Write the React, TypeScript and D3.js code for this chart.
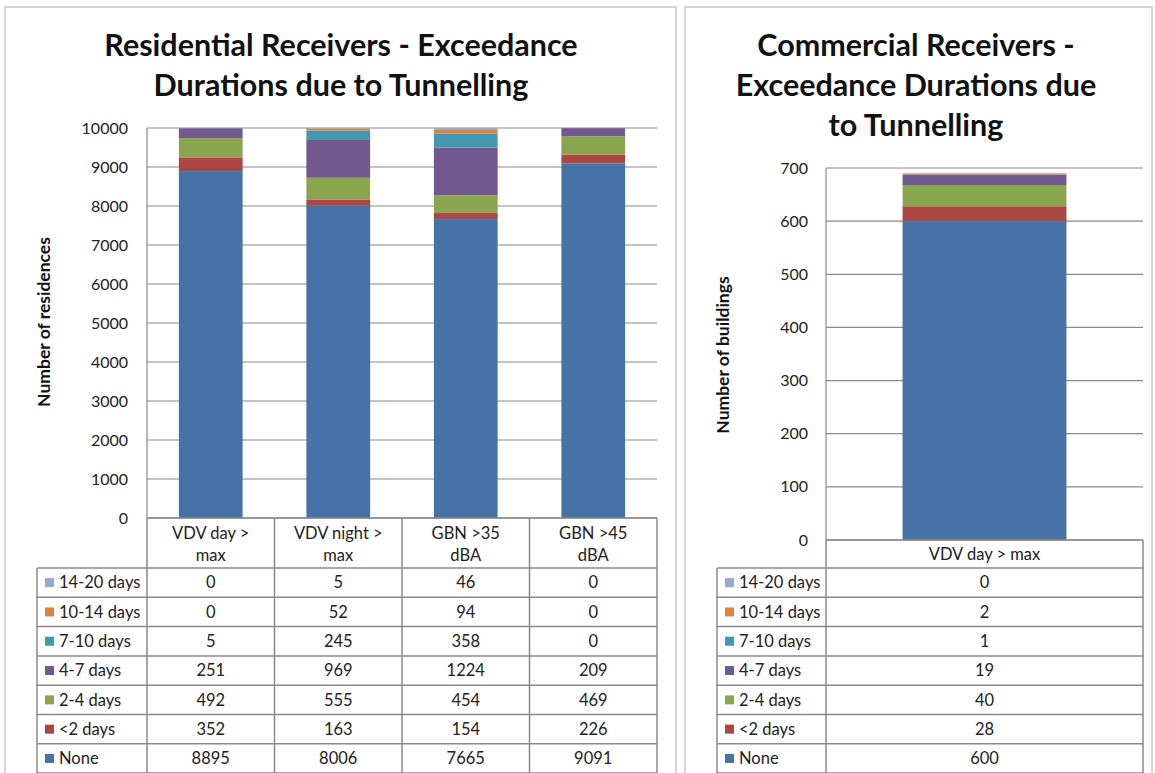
import React from "react";
import * as d3 from "d3";

const seriesNames = ["None", "<2 days", "2-4 days", "4-7 days", "7-10 days", "10-14 days", "14-20 days"];
const seriesColors = ["#4572A7", "#AA4643", "#89A54E", "#71588F", "#4198AF", "#DB843D", "#93A9CF"];

// Residential
const resCategories = ["VDV day > max", "VDV night > max", "GBN >35 dBA", "GBN >45 dBA"];
const resCategoryLines = [["VDV day >", "max"], ["VDV night >", "max"], ["GBN >35", "dBA"], ["GBN >45", "dBA"]];
const resNone = [8895, 8006, 7665, 9091];
const resLt2 = [352, 163, 154, 226];
const res2to4 = [492, 555, 454, 469];
const res4to7 = [251, 969, 1224, 209];
const res7to10 = [5, 245, 358, 0];
const res10to14 = [0, 52, 94, 0];
const res14to20 = [0, 5, 46, 0];
const resTicks = [0, 1000, 2000, 3000, 4000, 5000, 6000, 7000, 8000, 9000, 10000];

// Commercial
const comCategories = ["VDV day > max"];
const comCategoryLines = [["VDV day > max"]];
const comNone = [600];
const comLt2 = [28];
const com2to4 = [40];
const com4to7 = [19];
const com7to10 = [1];
const com10to14 = [2];
const com14to20 = [0];
const comTicks = [0, 100, 200, 300, 400, 500, 600, 700];

const FONT = "Lato, 'Open Sans', sans-serif";

type PanelProps = {
  px: number; pw: number;
  titleLines: string[]; titleCx: number; titleBaselines: number[];
  yTitle: string; yTitleX: number; yTitleCy: number;
  x0: number; x1: number; yTop: number; yBottom: number;
  ticks: number[]; tickRight: number;
  legendX: number; rowTop: number; rowH: number;
  categories: string[]; catLines: string[][]; catBaselines: number[];
  series: number[][]; barFrac: number;
};

function Panel(p: PanelProps) {
  const yMax = d3.max(p.ticks) as number;
  const y = d3.scaleLinear().domain([0, yMax]).range([p.yBottom, p.yTop]);
  const x = d3.scaleBand().domain(p.categories).range([p.x0, p.x1]).paddingInner(0).paddingOuter(0);
  const colW = x.bandwidth();
  const barW = colW * p.barFrac;
  const table = p.categories.map((c, i) => {
    const row: any = { cat: c };
    seriesNames.forEach((s, k) => (row[s] = p.series[k][i]));
    return row;
  });
  const stacked = d3.stack<any>().keys(seriesNames)(table);
  const nRows = seriesNames.length;
  const tableBottom = p.rowTop + nRows * p.rowH;
  const grid = "#8a8a8a";
  const tf = 16.5;
  return (
    <g>
      <rect x={p.px} y={7} width={p.pw} height={800} fill="#fff" stroke="#c8c8c8" strokeWidth={1.5} />
      {p.titleLines.map((t, i) => (
        <text key={i} x={p.titleCx} y={p.titleBaselines[i]} textAnchor="middle" fontFamily={FONT}
          fontWeight={700} fontSize={30.5} fill="#111">{t}</text>
      ))}
      <text transform={`translate(${p.yTitleX},${p.yTitleCy}) rotate(-90)`} textAnchor="middle"
        dominantBaseline="central" fontFamily={FONT} fontWeight={700} fontSize={17.5} fill="#111">{p.yTitle}</text>
      {p.ticks.map((t) => (
        <g key={t}>
          <line x1={p.x0} x2={p.x1} y1={y(t)} y2={y(t)} stroke={grid} strokeWidth={1.2} />
          <text x={p.tickRight} y={y(t)} dy="0.35em" textAnchor="end" fontFamily={FONT} fontSize={16} fill="#222">{t}</text>
        </g>
      ))}
      <line x1={p.x0} x2={p.x0} y1={p.yTop} y2={p.yBottom} stroke={grid} strokeWidth={1.2} />
      {stacked.map((layer, k) => (
        <g key={layer.key} fill={seriesColors[k]}>
          {layer.map((d, i) => {
            const cx = (x(p.categories[i]) as number) + colW / 2;
            const h = y(d[0]) - y(d[1]);
            if (h <= 0) return null;
            return <rect key={i} x={cx - barW / 2} y={y(d[1])} width={barW} height={h} />;
          })}
        </g>
      ))}
      {/* data table */}
      <g stroke={grid} strokeWidth={1.5} fill="none">
        <line x1={p.x0} x2={p.x1} y1={p.yBottom} y2={p.yBottom} />
        {p.categories.map((c, i) => (
          <line key={c} x1={x(c)} x2={x(c)} y1={p.yBottom} y2={tableBottom} />
        ))}
        <line x1={p.x1} x2={p.x1} y1={p.yBottom} y2={tableBottom} />
        <line x1={p.legendX} x2={p.legendX} y1={p.rowTop} y2={tableBottom} />
        {d3.range(nRows + 1).map((r) => (
          <line key={r} x1={p.legendX} x2={p.x1} y1={p.rowTop + r * p.rowH} y2={p.rowTop + r * p.rowH} />
        ))}
      </g>
      {p.categories.map((c, i) => {
        const cx = (x(c) as number) + colW / 2;
        return p.catLines[i].map((ln, j) => (
          <text key={c + j} x={cx} y={p.catBaselines[j]} textAnchor="middle" fontFamily={FONT} fontSize={tf} fill="#222">{ln}</text>
        ));
      })}
      {seriesNames.slice().reverse().map((s, r) => {
        const k = nRows - 1 - r;
        const cy = p.rowTop + r * p.rowH + p.rowH / 2;
        return (
          <g key={s}>
            <rect x={p.legendX + 8} y={cy - 4.5} width={9} height={9} fill={seriesColors[k]} />
            <text x={p.legendX + 22} y={cy} dy="0.35em" fontFamily={FONT} fontSize={tf} fill="#222">{s}</text>
            {p.categories.map((c, i) => (
              <text key={c} x={(x(c) as number) + colW / 2} y={cy} dy="0.35em" textAnchor="middle"
                fontFamily={FONT} fontSize={tf} fill="#222">{p.series[k][i]}</text>
            ))}
          </g>
        );
      })}
    </g>
  );
}

export default function App() {
  return (
    <svg width={1155} height={773} style={{ position: "absolute", left: 0, top: 0, background: "#fff" }}>
      <rect x={0} y={0} width={1155} height={773} fill="#fff" />
      <Panel px={5} pw={671}
        titleLines={["Residential Receivers - Exceedance", "Durations due to Tunnelling"]}
        titleCx={341} titleBaselines={[56, 96]}
        yTitle="Number of residences" yTitleX={43} yTitleCy={322}
        x0={147} x1={657} yTop={128} yBottom={518}
        ticks={resTicks} tickRight={128}
        legendX={37} rowTop={568} rowH={29.3}
        categories={resCategories} catLines={resCategoryLines} catBaselines={[539, 561]}
        series={[resNone, resLt2, res2to4, res4to7, res7to10, res10to14, res14to20]} barFrac={0.5} />
      <Panel px={685} pw={467}
        titleLines={["Commercial Receivers -", "Exceedance Durations due", "to Tunnelling"]}
        titleCx={916} titleBaselines={[56, 96, 136]}
        yTitle="Number of buildings" yTitleX={722} yTitleCy={355}
        x0={826} x1={1143} yTop={168} yBottom={540}
        ticks={comTicks} tickRight={808}
        legendX={717} rowTop={568} rowH={29.3}
        categories={comCategories} catLines={comCategoryLines} catBaselines={[560]}
        series={[comNone, comLt2, com2to4, com4to7, com7to10, com10to14, com14to20]} barFrac={0.517} />
    </svg>
  );
}
